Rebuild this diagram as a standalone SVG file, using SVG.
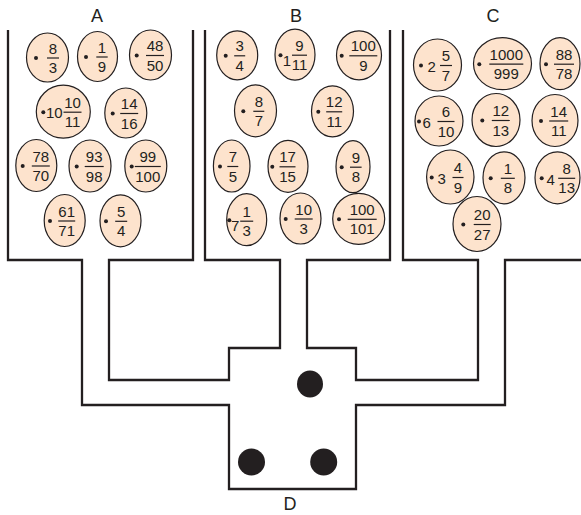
<svg xmlns="http://www.w3.org/2000/svg" width="581" height="515" viewBox="0 0 581 515">
<style>
.egg{fill:#fde3cd;stroke:#231f20;stroke-width:1.2}
.n{font-family:"Liberation Sans",Arial,sans-serif;font-size:15px;text-anchor:middle;fill:#231f20}
.w{font-family:"Liberation Sans",Arial,sans-serif;font-size:15px;text-anchor:start;fill:#231f20}
.bar{stroke:#231f20;stroke-width:1.2}
.b{fill:#231f20}
.wall{fill:none;stroke:#231f20;stroke-width:2.3;stroke-linejoin:miter}
.lab{font-family:"Liberation Sans",Arial,sans-serif;font-size:18px;text-anchor:middle;fill:#231f20}
.ball{fill:#231f20}
</style>
<rect width="581" height="515" fill="#fff"/>
<g id="connectors">
<path class="wall" d="M8,30 V260 H82 V405 H229 V489 H356 V405 H505 V260 H581"/>
<path class="wall" d="M193,30 V260 H109 V380 H229 V348 H280 V260 H205 V30"/>
<path class="wall" d="M390,30 V260 H307 V348 H356 V380 H478 V260 H403 V30"/>
</g>
<g id="labels">
<text class="lab" x="97" y="22">A</text>
<text class="lab" x="296" y="22">B</text>
<text class="lab" x="493" y="22">C</text>
<text class="lab" x="290" y="510">D</text>
</g>
<g id="balls">
<ellipse class="ball" cx="310" cy="384" rx="13" ry="13.5"/>
<ellipse class="ball" cx="251.5" cy="462" rx="13.5" ry="13.5"/>
<ellipse class="ball" cx="323.7" cy="462" rx="13.5" ry="13.5"/>
</g>
<g id="a1"><ellipse class="egg" cx="47.5" cy="57.5" rx="21" ry="24.5"/><circle class="b" cx="36" cy="58" r="2"/><text class="n" x="53" y="53.5">8</text><line class="bar" x1="47" y1="58" x2="59" y2="58"/><text class="n" x="53" y="73">3</text></g>
<g id="a2"><ellipse class="egg" cx="97.5" cy="56.5" rx="20" ry="25"/><circle class="b" cx="86" cy="57" r="2"/><text class="n" x="102" y="52.5">1</text><line class="bar" x1="96.3" y1="57" x2="107.7" y2="57"/><text class="n" x="102" y="72">9</text></g>
<g id="a3"><ellipse class="egg" cx="150.5" cy="55" rx="21" ry="25"/><circle class="b" cx="136.7" cy="55.5" r="2"/><text class="n" x="155" y="51">48</text><line class="bar" x1="146" y1="55.5" x2="164" y2="55.5"/><text class="n" x="155" y="70.5">50</text></g>
<g id="a4"><ellipse class="egg" cx="63.3" cy="111.7" rx="27" ry="26.5"/><circle class="b" cx="43.3" cy="112.2" r="2"/><text class="w" x="46" y="118.2">10</text><text class="n" x="72.5" y="107.7">10</text><line class="bar" x1="63.5" y1="112.2" x2="81.5" y2="112.2"/><text class="n" x="72.5" y="127.2">11</text></g>
<g id="a5"><ellipse class="egg" cx="125.8" cy="113" rx="21" ry="25"/><circle class="b" cx="112.7" cy="113.5" r="2"/><text class="n" x="129.2" y="109">14</text><line class="bar" x1="120.2" y1="113.5" x2="138.2" y2="113.5"/><text class="n" x="129.2" y="128.5">16</text></g>
<g id="a6"><ellipse class="egg" cx="36.3" cy="165.5" rx="20.5" ry="26"/><circle class="b" cx="22.7" cy="166" r="2"/><text class="n" x="40.8" y="161.5">78</text><line class="bar" x1="31.8" y1="166" x2="49.8" y2="166"/><text class="n" x="40.8" y="181">70</text></g>
<g id="a7"><ellipse class="egg" cx="90" cy="166" rx="21" ry="26"/><circle class="b" cx="76.7" cy="166.5" r="2"/><text class="n" x="94.2" y="162">93</text><line class="bar" x1="84.7" y1="166.5" x2="103.7" y2="166.5"/><text class="n" x="94.2" y="181.5">98</text></g>
<g id="a8"><ellipse class="egg" cx="145.8" cy="166" rx="21" ry="26"/><circle class="b" cx="131.7" cy="166.5" r="2"/><text class="n" x="147.8" y="162">99</text><line class="bar" x1="134.8" y1="166.5" x2="160.8" y2="166.5"/><text class="n" x="147.8" y="181.5">100</text></g>
<g id="a9"><ellipse class="egg" cx="64.7" cy="220.5" rx="20.5" ry="26"/><circle class="b" cx="50" cy="221" r="2"/><text class="n" x="66.7" y="216.5">61</text><line class="bar" x1="58.2" y1="221" x2="75.2" y2="221"/><text class="n" x="66.7" y="236">71</text></g>
<g id="a10"><ellipse class="egg" cx="120.5" cy="220.8" rx="20.5" ry="26"/><circle class="b" cx="106" cy="221.3" r="2"/><text class="n" x="121.2" y="216.8">5</text><line class="bar" x1="115.2" y1="221.3" x2="127.2" y2="221.3"/><text class="n" x="121.2" y="236.3">4</text></g>
<g id="b1"><ellipse class="egg" cx="237.2" cy="55.3" rx="20.5" ry="24.5"/><circle class="b" cx="225.7" cy="55.8" r="2"/><text class="n" x="239.7" y="51.3">3</text><line class="bar" x1="234.2" y1="55.8" x2="245.2" y2="55.8"/><text class="n" x="239.7" y="70.8">4</text></g>
<g id="b2"><ellipse class="egg" cx="295" cy="54.7" rx="20" ry="25.5"/><circle class="b" cx="280.5" cy="55.2" r="2"/><text class="w" x="282.8" y="65.7">1</text><text class="n" x="299.5" y="50.7">9</text><line class="bar" x1="292" y1="55.2" x2="307" y2="55.2"/><text class="n" x="299.5" y="70.2">11</text></g>
<g id="b3"><ellipse class="egg" cx="359" cy="55.3" rx="22.5" ry="24.5"/><circle class="b" cx="341.7" cy="55.8" r="2"/><text class="n" x="363.3" y="51.3">100</text><line class="bar" x1="349.3" y1="55.8" x2="377.3" y2="55.8"/><text class="n" x="363.3" y="70.8">9</text></g>
<g id="b4"><ellipse class="egg" cx="255.5" cy="110.8" rx="21" ry="26"/><circle class="b" cx="243.3" cy="111.3" r="2"/><text class="n" x="258.8" y="106.8">8</text><line class="bar" x1="253.3" y1="111.3" x2="264.3" y2="111.3"/><text class="n" x="258.8" y="126.3">7</text></g>
<g id="b5"><ellipse class="egg" cx="332.5" cy="111.3" rx="21" ry="25.5"/><circle class="b" cx="318.3" cy="111.8" r="2"/><text class="n" x="334.2" y="107.3">12</text><line class="bar" x1="326.2" y1="111.8" x2="342.2" y2="111.8"/><text class="n" x="334.2" y="126.8">11</text></g>
<g id="b6"><ellipse class="egg" cx="231.7" cy="166" rx="18.3" ry="26"/><circle class="b" cx="220" cy="166.5" r="2"/><text class="n" x="232.8" y="162">7</text><line class="bar" x1="227.3" y1="166.5" x2="238.3" y2="166.5"/><text class="n" x="232.8" y="181.5">5</text></g>
<g id="b7"><ellipse class="egg" cx="288" cy="166.3" rx="20" ry="26"/><circle class="b" cx="272.3" cy="166.8" r="2"/><text class="n" x="287.5" y="162.3">17</text><line class="bar" x1="279.5" y1="166.8" x2="295.5" y2="166.8"/><text class="n" x="287.5" y="181.8">15</text></g>
<g id="b8"><ellipse class="egg" cx="353" cy="166.7" rx="17" ry="26"/><circle class="b" cx="341.7" cy="167.2" r="2"/><text class="n" x="355.8" y="162.7">9</text><line class="bar" x1="350" y1="167.2" x2="361.6" y2="167.2"/><text class="n" x="355.8" y="182.2">8</text></g>
<g id="b9"><ellipse class="egg" cx="246.7" cy="219.7" rx="20" ry="26"/><circle class="b" cx="229.3" cy="220.2" r="2"/><text class="w" x="231" y="230.7">7</text><text class="n" x="246.7" y="216.7">1</text><line class="bar" x1="240.2" y1="221.2" x2="253.2" y2="221.2"/><text class="n" x="246.7" y="236.2">3</text></g>
<g id="b10"><ellipse class="egg" cx="300.5" cy="218.5" rx="20.5" ry="25.5"/><circle class="b" cx="285.7" cy="219" r="2"/><text class="n" x="303.7" y="214.5">10</text><line class="bar" x1="294.7" y1="219" x2="312.7" y2="219"/><text class="n" x="303.7" y="234">3</text></g>
<g id="b11"><ellipse class="egg" cx="358.7" cy="218.8" rx="26" ry="25.5"/><circle class="b" cx="339" cy="219.3" r="2"/><text class="n" x="362.2" y="214.8">100</text><line class="bar" x1="347.7" y1="219.3" x2="376.7" y2="219.3"/><text class="n" x="362.2" y="234.3">101</text></g>
<g id="c1"><ellipse class="egg" cx="437.5" cy="65" rx="24" ry="26"/><circle class="b" cx="421" cy="65.5" r="2"/><text class="w" x="427.5" y="72">2</text><text class="n" x="446" y="61">5</text><line class="bar" x1="440" y1="65.5" x2="452" y2="65.5"/><text class="n" x="446" y="80.5">7</text></g>
<g id="c2"><ellipse class="egg" cx="502.5" cy="63.7" rx="29" ry="26"/><circle class="b" cx="479.3" cy="64.2" r="2"/><text class="n" x="506.3" y="59.7">1000</text><line class="bar" x1="489.3" y1="64.2" x2="523.3" y2="64.2"/><text class="n" x="506.3" y="79.2">999</text></g>
<g id="c3"><ellipse class="egg" cx="560" cy="63.7" rx="20" ry="26"/><circle class="b" cx="546" cy="64.2" r="2"/><text class="n" x="564" y="59.7">88</text><line class="bar" x1="554" y1="64.2" x2="574" y2="64.2"/><text class="n" x="564" y="79.2">78</text></g>
<g id="c4"><ellipse class="egg" cx="439" cy="121" rx="24" ry="25"/><circle class="b" cx="419" cy="121.5" r="2"/><text class="w" x="422.5" y="128">6</text><text class="n" x="446" y="117">6</text><line class="bar" x1="437.5" y1="121.5" x2="454.5" y2="121.5"/><text class="n" x="446" y="136.5">10</text></g>
<g id="c5"><ellipse class="egg" cx="496" cy="120" rx="24" ry="26.5"/><circle class="b" cx="482.3" cy="120.5" r="2"/><text class="n" x="500.8" y="116">12</text><line class="bar" x1="491.8" y1="120.5" x2="509.8" y2="120.5"/><text class="n" x="500.8" y="135.5">13</text></g>
<g id="c6"><ellipse class="egg" cx="555" cy="120.5" rx="23" ry="26"/><circle class="b" cx="541" cy="121" r="2"/><text class="n" x="558.7" y="116.5">14</text><line class="bar" x1="549.2" y1="121" x2="568.2" y2="121"/><text class="n" x="558.7" y="136">11</text></g>
<g id="c7"><ellipse class="egg" cx="450.3" cy="177" rx="23.7" ry="27"/><circle class="b" cx="431.7" cy="177.5" r="2"/><text class="w" x="437.5" y="184">3</text><text class="n" x="458" y="173">4</text><line class="bar" x1="452.5" y1="177.5" x2="463.5" y2="177.5"/><text class="n" x="458" y="192.5">9</text></g>
<g id="c8"><ellipse class="egg" cx="504" cy="177.8" rx="21" ry="26"/><circle class="b" cx="490.7" cy="178.3" r="2"/><text class="n" x="507.8" y="173.8">1</text><line class="bar" x1="500.8" y1="178.3" x2="514.8" y2="178.3"/><text class="n" x="507.8" y="193.3">8</text></g>
<g id="c9"><ellipse class="egg" cx="557.5" cy="177.8" rx="22.5" ry="26"/><circle class="b" cx="541.7" cy="178.3" r="2"/><text class="w" x="546.5" y="184.8">4</text><text class="n" x="566.7" y="173.8">8</text><line class="bar" x1="558.2" y1="178.3" x2="575.2" y2="178.3"/><text class="n" x="566.7" y="193.3">13</text></g>
<g id="c10"><ellipse class="egg" cx="477" cy="224" rx="24" ry="27.5"/><circle class="b" cx="463.3" cy="224.5" r="2"/><text class="n" x="482.2" y="220">20</text><line class="bar" x1="473.7" y1="224.5" x2="490.7" y2="224.5"/><text class="n" x="482.2" y="239.5">27</text></g>
</svg>
